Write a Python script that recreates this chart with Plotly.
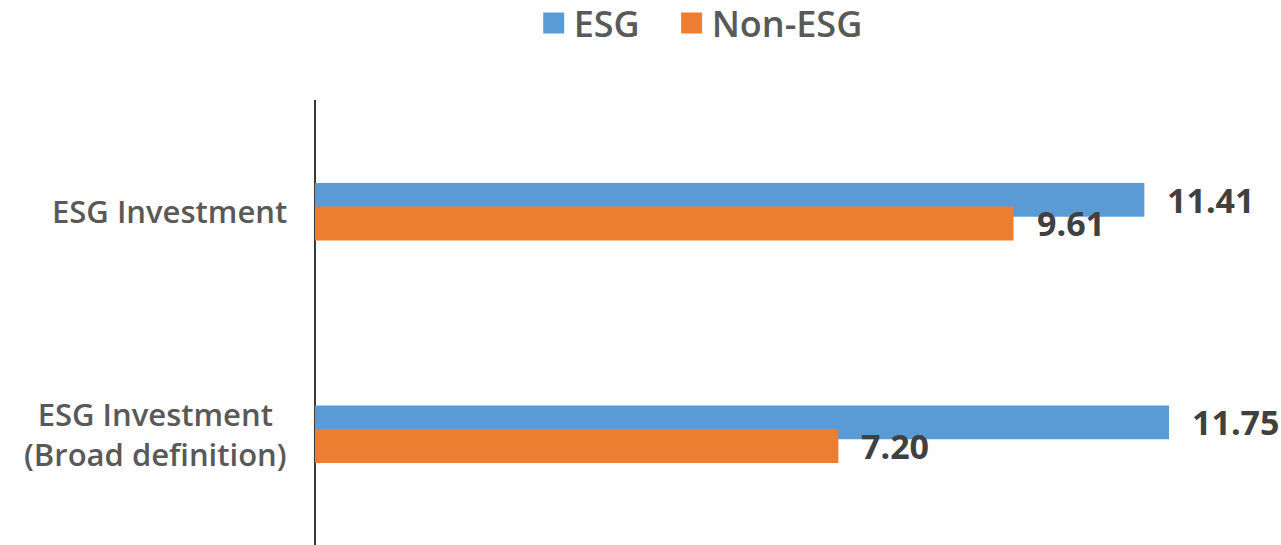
import plotly.graph_objects as go

categories = ["ESG Investment", "ESG Investment<br>(Broad definition)"]
esg_values = [11.41, 11.75]
non_esg_values = [9.61, 7.20]
series_names = ["ESG", "Non-ESG"]

BLUE = "#5B9BD5"
ORANGE = "#ED7D31"
TEXT_GRAY = "#595959"
LABEL_DARK = "#404040"
FONT = "Open Sans"

BAR_W = 0.152
OFFSETS = [-0.127, -0.021]
LEGEND_IDS = ["legend", "legend2"]

fig = go.Figure()
for vals, color, name, off, lg in [(esg_values, BLUE, series_names[0], OFFSETS[0], LEGEND_IDS[0]),
                                   (non_esg_values, ORANGE, series_names[1], OFFSETS[1], LEGEND_IDS[1])]:
    fig.add_trace(go.Bar(
        y=list(range(len(categories))), x=vals, orientation="h",
        marker=dict(color=color, line=dict(width=0)),
        width=BAR_W, offset=off, showlegend=False, name=name,
        hoverinfo="x",
    ))
    # legend entries
    fig.add_trace(go.Scatter(
        x=[None], y=[None], mode="markers", name=name, legend=lg,
        marker=dict(symbol="square", size=16, color=color,
                    line=dict(color=color, width=5)),
        showlegend=True,
    ))
    # value labels
    for i, v in enumerate(vals):
        fig.add_annotation(
            x=v, y=i + off + BAR_W / 2, xref="x", yref="y",
            text=f"{v:.2f}", showarrow=False, xanchor="left", yanchor="middle",
            xshift=21, font=dict(family=FONT, size=34, color=LABEL_DARK, weight=700),
        )

for i, c in enumerate(categories):
    fig.add_annotation(
        x=0, y=i, xref="paper", yref="y", text=c, showarrow=False,
        xanchor="right", yanchor="middle", align="center", xshift=-26,
        font=dict(family=FONT, size=31, color=TEXT_GRAY, weight=600),
    )

legend_style = dict(orientation="h", xanchor="left", y=1.2404, yanchor="top",
                    font=dict(family=FONT, size=36, color=TEXT_GRAY, weight=600),
                    itemclick=False, itemdoubleclick=False)

fig.update_layout(
    width=1281, height=545,
    margin=dict(l=315, r=0, t=100, b=0, autoexpand=False),
    paper_bgcolor="white", plot_bgcolor="white",
    barmode="overlay",
    showlegend=True,
    legend=dict(x=0.2264, **legend_style),
    legend2=dict(x=0.3692, **legend_style),
    xaxis=dict(range=[0, 13.29], showgrid=False, zeroline=False,
               showticklabels=False, ticks="", showline=False, fixedrange=True),
    yaxis=dict(range=[1.5, -0.5], showgrid=False, zeroline=False,
               showticklabels=False, ticks="", showline=False, fixedrange=True),
)
# vertical category axis line at x=0
fig.update_xaxes(zeroline=True, zerolinecolor="#3a3a3a", zerolinewidth=1.6)

fig.write_html("out.html")
